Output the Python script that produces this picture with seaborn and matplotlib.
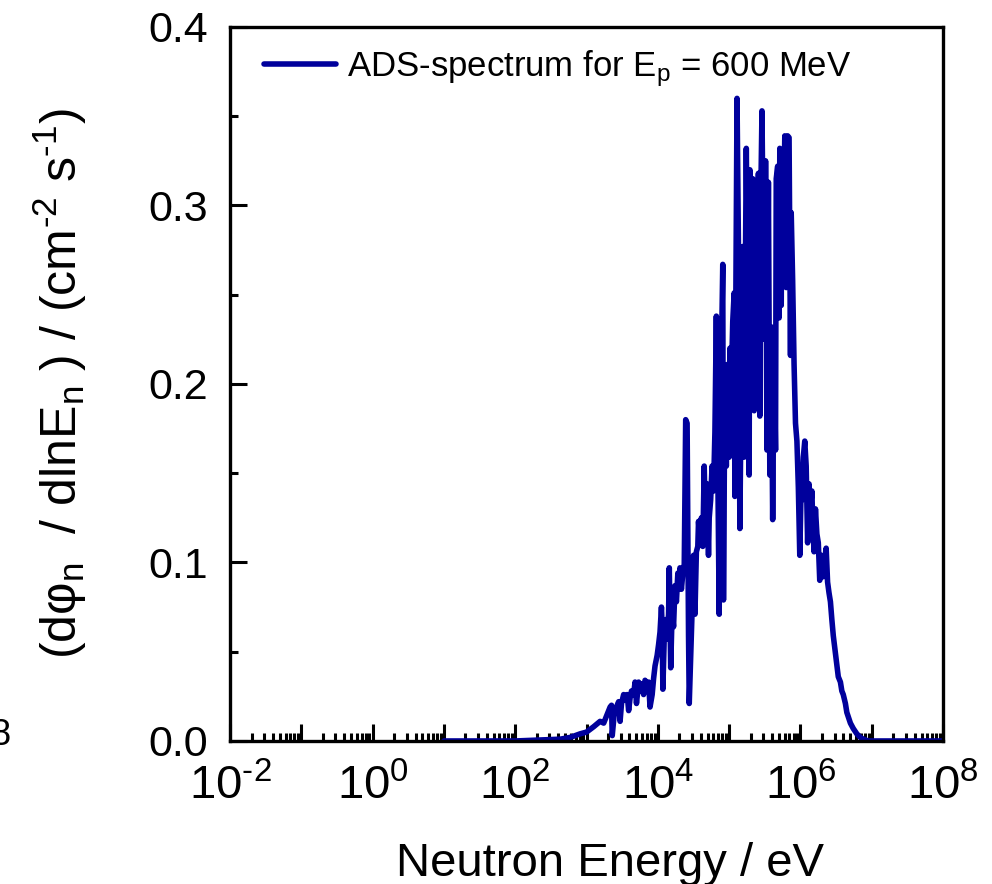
import numpy as np
import pandas as pd
import matplotlib
matplotlib.use("Agg")
import matplotlib.pyplot as plt
import matplotlib.ticker as mticker
import seaborn as sns

# ---- data (log10 of neutron energy in eV, flux) ----
log10_energy = [
    1.00, 1.50, 2.00, 2.30, 2.63, 2.77, 2.91, 3.00, 3.10, 3.19, 3.24, 3.28, 3.33, 3.35,
    3.36, 3.39, 3.42, 3.45, 3.47, 3.49, 3.52, 3.54, 3.57, 3.59, 3.61, 3.63, 3.66, 3.68,
    3.70, 3.73, 3.75, 3.78, 3.80, 3.82, 3.85, 3.87, 3.89, 3.92, 3.94, 3.96, 3.99, 4.01,
    4.03, 4.05, 4.06, 4.07, 4.09, 4.11, 4.13, 4.15, 4.16, 4.18, 4.20, 4.22, 4.24, 4.26,
    4.28, 4.29, 4.31, 4.33, 4.35, 4.37, 4.39, 4.41, 4.43, 4.44, 4.46, 4.48, 4.50, 4.52,
    4.54, 4.56, 4.57, 4.59, 4.61, 4.63, 4.65, 4.67, 4.69, 4.71, 4.72, 4.74, 4.76, 4.78,
    4.80, 4.82, 4.84, 4.86, 4.87, 4.89, 4.91, 4.92, 4.94, 4.96, 4.98, 5.00, 5.01, 5.03,
    5.05, 5.07, 5.08, 5.09, 5.11, 5.13, 5.15, 5.17, 5.19, 5.21, 5.22, 5.24, 5.26, 5.28,
    5.29, 5.31, 5.33, 5.35, 5.37, 5.39, 5.41, 5.43, 5.44, 5.46, 5.48, 5.50, 5.51, 5.53,
    5.55, 5.57, 5.59, 5.61, 5.63, 5.65, 5.66, 5.68, 5.70, 5.71, 5.73, 5.74, 5.76, 5.78,
    5.80, 5.82, 5.84, 5.86, 5.87, 5.89, 5.91, 5.93, 5.95, 5.97, 5.99, 6.01, 6.02, 6.04,
    6.06, 6.08, 6.10, 6.12, 6.14, 6.16, 6.17, 6.19, 6.21, 6.23, 6.25, 6.27, 6.29, 6.30,
    6.32, 6.34, 6.36, 6.38, 6.40, 6.42, 6.44, 6.46, 6.49, 6.51, 6.53, 6.56, 6.58, 6.60,
    6.63, 6.65, 6.70, 6.74, 6.79, 6.84, 6.88, 6.95, 7.02, 7.20, 7.50, 8.00,
]
flux = [
    0.000, 0.000, 0.000, 0.0005, 0.001, 0.002, 0.004, 0.005, 0.008, 0.011, 0.010, 0.014, 0.019, 0.020,
    0.003, 0.016, 0.019, 0.022, 0.011, 0.021, 0.026, 0.023, 0.026, 0.017, 0.024, 0.028, 0.026, 0.033,
    0.021, 0.033, 0.028, 0.032, 0.026, 0.034, 0.030, 0.033, 0.019, 0.026, 0.035, 0.042, 0.048, 0.054,
    0.061, 0.075, 0.064, 0.029, 0.059, 0.068, 0.057, 0.071, 0.097, 0.041, 0.073, 0.064, 0.087, 0.078,
    0.094, 0.085, 0.097, 0.085, 0.094, 0.099, 0.180, 0.178, 0.059, 0.021, 0.047, 0.073, 0.104, 0.071,
    0.106, 0.109, 0.123, 0.111, 0.125, 0.109, 0.154, 0.111, 0.144, 0.104, 0.125, 0.135, 0.154, 0.140,
    0.173, 0.238, 0.154, 0.071, 0.159, 0.213, 0.267, 0.079, 0.201, 0.154, 0.211, 0.159, 0.220, 0.201,
    0.235, 0.251, 0.137, 0.225, 0.360, 0.277, 0.119, 0.206, 0.277, 0.159, 0.225, 0.332, 0.249, 0.149,
    0.320, 0.225, 0.315, 0.185, 0.296, 0.225, 0.318, 0.182, 0.296, 0.353, 0.268, 0.225, 0.325, 0.163,
    0.313, 0.149, 0.232, 0.124, 0.220, 0.163, 0.315, 0.322, 0.237, 0.332, 0.244, 0.330, 0.289, 0.339,
    0.254, 0.339, 0.338, 0.216, 0.296, 0.258, 0.211, 0.178, 0.168, 0.142, 0.104, 0.144, 0.135, 0.159,
    0.168, 0.154, 0.111, 0.144, 0.130, 0.140, 0.125, 0.106, 0.130, 0.116, 0.111, 0.090, 0.104, 0.097,
    0.092, 0.102, 0.108, 0.089, 0.083, 0.078, 0.068, 0.059, 0.049, 0.042, 0.036, 0.033, 0.028, 0.026,
    0.021, 0.016, 0.010, 0.007, 0.004, 0.002, 0.001, 0.000, 0.000, 0.000, 0.000, 0.000,
]
legend_label = r"ADS-spectrum for E$_{\rm p}$ = 600 MeV"
x_label = "Neutron Energy / eV"
y_label = r"(dφ$_{\rm n}$  / dlnE$_{\rm n}$ ) / (cm$^{\text{-2}}$ s$^{\text{-1}}$)"
y_ticks = [0.0, 0.1, 0.2, 0.3, 0.4]

df = pd.DataFrame({"energy": np.power(10.0, log10_energy), "flux": flux})

sns.set_theme(style="ticks")
plt.rcParams["font.family"] = ["Liberation Sans", "DejaVu Sans"]
plt.rcParams["mathtext.fontset"] = "custom"
plt.rcParams["mathtext.rm"] = "Liberation Sans"
plt.rcParams["mathtext.it"] = "Liberation Sans:italic"
plt.rcParams["mathtext.bf"] = "Liberation Sans:bold"
for k in ["text.color", "axes.labelcolor", "xtick.color", "ytick.color", "axes.edgecolor"]:
    plt.rcParams[k] = "black"

fig = plt.figure(figsize=(9.92, 8.84), dpi=100)
ax = fig.add_axes([0.2319, 0.1618, 0.7188, 0.8077])

line_color = "#00009C"
sns.lineplot(data=df, x="energy", y="flux", ax=ax, color=line_color, lw=4.0,
             estimator=None, sort=False, label=legend_label,
             solid_joinstyle="round", solid_capstyle="round")

ax.set_xscale("log")
ax.set_xlim(1e-2, 1e8)
ax.set_ylim(0, 0.4)

ax.xaxis.set_major_locator(mticker.LogLocator(base=10, numticks=30))
ax.xaxis.set_minor_locator(mticker.LogLocator(base=10, subs=np.arange(2, 10), numticks=300))
ax.xaxis.set_minor_formatter(mticker.NullFormatter())


def xfmt(v, pos):
    e = int(round(np.log10(v)))
    return r"10$^{\text{%d}}$" % e if e % 2 == 0 else ""


ax.xaxis.set_major_formatter(mticker.FuncFormatter(xfmt))
ax.set_yticks(y_ticks)
ax.yaxis.set_major_formatter(mticker.FormatStrFormatter("%.1f"))
ax.yaxis.set_minor_locator(mticker.MultipleLocator(0.05))

for s in ax.spines.values():
    s.set_linewidth(2.4)
    s.set_color("black")

ax.tick_params(which="both", direction="in", top=False, right=False, colors="black")
ax.tick_params(which="major", length=12, width=2.2, labelsize=31)
ax.tick_params(which="minor", length=5.5, width=2.2)
ax.tick_params(axis="x", which="major", pad=17, labelsize=34)
ax.tick_params(axis="y", which="major", pad=16)

ax.set_xlabel(x_label, fontsize=34)
ax.set_ylabel(y_label, fontsize=36)
ax.xaxis.set_label_coords(0.533, -0.141)
ax.yaxis.set_label_coords(-0.198, 0.50)

leg = ax.legend(loc="upper left", bbox_to_anchor=(0.047, 0.97), frameon=False,
                fontsize=25, handlelength=2.1, handletextpad=0.3,
                borderaxespad=0, borderpad=0)
for h in leg.get_lines():
    h.set_linewidth(4.0)

fig.text(0.0, 0.1685, "8", fontsize=26, ha="center", va="center", color="black")

fig.savefig("out.png", dpi=100)
